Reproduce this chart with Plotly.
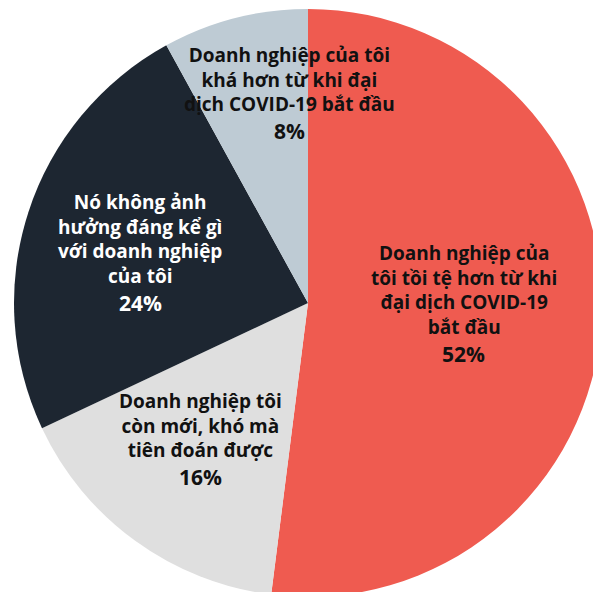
import math
import plotly.graph_objects as go

labels = [
    "Doanh nghiệp của<br>tôi tồi tệ hơn từ khi<br>đại dịch COVID-19<br>bắt đầu",
    "Doanh nghiệp tôi<br>còn mới, khó mà<br>tiên đoán được",
    "Nó không ảnh<br>hưởng đáng kể gì<br>với doanh nghiệp<br>của tôi",
    "Doanh nghiệp của tôi<br>khá hơn từ khi đại<br>dịch COVID-19 bắt đầu",
]
values = [52, 16, 24, 8]
colors = ["#EF5B50", "#DFDFDF", "#1D2631", "#BECBD4"]
text_colors = ["#111111", "#111111", "#FFFFFF", "#111111"]

# label placement (fraction of radius along mid-angle, extra px shift)
label_r = [0.528, 0.625, 0.597, 0.65]
label_dx = [1, 1, -1, 29]
label_dy = [-28, -12, -41, 0]

W, H = 602, 597
ML, MT = 14, 9

fig = go.Figure(go.Pie(
    labels=[l.replace("<br>", " ") for l in labels],
    values=values,
    marker=dict(colors=colors, line=dict(width=0)),
    sort=False,
    direction="clockwise",
    rotation=0,
    textinfo="none",
    hoverinfo="label+percent",
    domain=dict(x=[0, 1], y=[0, 1]),
))

total = sum(values)
cum = 0
annotations = []
for lab, v, tc, f, dx, dy in zip(labels, values, text_colors, label_r, label_dx, label_dy):
    mid = (cum + v / 2) / total * 2 * math.pi
    cum += v
    x = 0.5 + 0.5 * f * math.sin(mid)
    y = 0.5 + 0.5 * f * math.cos(mid)
    annotations.append(dict(
        x=x, y=y, xref="paper", yref="paper",
        text=f"<b>{lab}</b>",
        showarrow=False, align="center",
        xanchor="center", yanchor="bottom",
        xshift=dx, yshift=dy,
        borderpad=0,
        font=dict(family="Open Sans", size=19, color=tc),
    ))
    annotations.append(dict(
        x=x, y=y, xref="paper", yref="paper",
        text=f"<b>{v}%</b>",
        showarrow=False, align="center",
        xanchor="center", yanchor="top",
        xshift=dx, yshift=dy + 2,
        borderpad=0,
        font=dict(family="Open Sans", size=21, color=tc),
    ))

fig.update_layout(
    width=W, height=H,
    margin=dict(l=ML, r=0, t=MT, b=0),
    paper_bgcolor="white",
    plot_bgcolor="white",
    showlegend=False,
    annotations=annotations,
)

fig.write_html(
    "out.html",
    post_script="document.documentElement.style.overflow='hidden';document.body.style.overflow='hidden';",
)
